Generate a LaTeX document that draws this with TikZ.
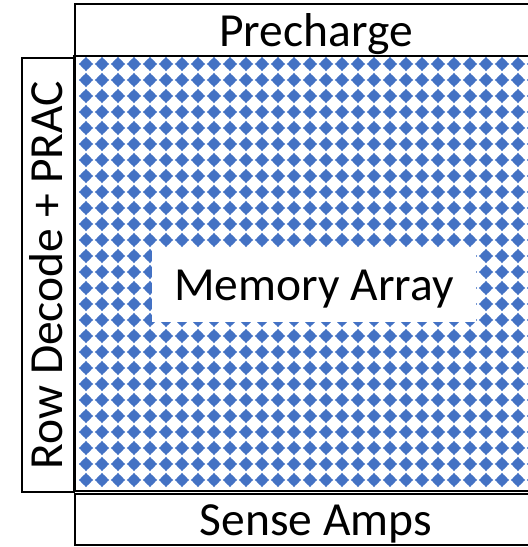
\documentclass[tikz,border=0pt]{standalone}
\usepackage{fontspec}
\setmainfont{Carlito}
\definecolor{cellblue}{HTML}{4472C4}
\newcommand\blocklabel{\fontsize{47.5}{47.5}\selectfont}
\begin{document}
\begin{tikzpicture}[x=1pt,y=-1pt,
  block/.style={draw=black, line width=2.8pt, inner sep=0pt},
  caption/.style={font=\blocklabel, inner sep=0pt, anchor=base},
  cell/.style={fill=cellblue, draw=none}]
\useasboundingbox (0,0) rectangle (528,547);

% memory array with its grid of cells
\node[block, minimum width=455pt, minimum height=435pt] (array) at (301.6,273.5) {};
\begin{scope}
  \clip (75,57) rectangle (556,490);
  \foreach \i in {0,...,29} {
    \foreach \j in {0,...,26} {
      \fill[cell] (86+16*\i,64+16*\j) +(0,-7.2) -- +(1.3,-5.6) -- +(3.6,-3.6) -- +(5.6,-1.3)
        -- +(7.2,0) -- +(5.6,1.3) -- +(3.6,3.6) -- +(1.3,5.6) -- +(0,7.2) -- +(-1.3,5.6)
        -- +(-3.6,3.6) -- +(-5.6,1.3) -- +(-7.2,0) -- +(-5.6,-1.3) -- +(-3.6,-3.6) -- +(-1.3,-5.6) -- cycle;
    }
  }
\end{scope}
\node[block, minimum width=455pt, minimum height=435pt] (arrayframe) at (array.center) {};
\node[fill=white, inner sep=0pt, minimum width=324pt, minimum height=74pt] (arraybox) at (314,285) {};
\node[caption] (arraylabel) at (314,300) {Memory Array};

% surrounding blocks
\node[block, minimum width=454pt, minimum height=52pt] (precharge) at (302,30) {};
\node[caption] (prechargelabel) at (316,46) {Precharge};
\node[block, minimum width=454pt, minimum height=51pt] (senseamps) at (302,519.5) {};
\node[caption] (senseampslabel) at (316,535) {Sense Amps};
\node[block, minimum width=52pt, minimum height=434pt] (rowdecode) at (48,275) {};
\node[caption, rotate=90] (rowdecodelabel) at (62,275) {Row Decode + PRAC};
\end{tikzpicture}
\end{document}
